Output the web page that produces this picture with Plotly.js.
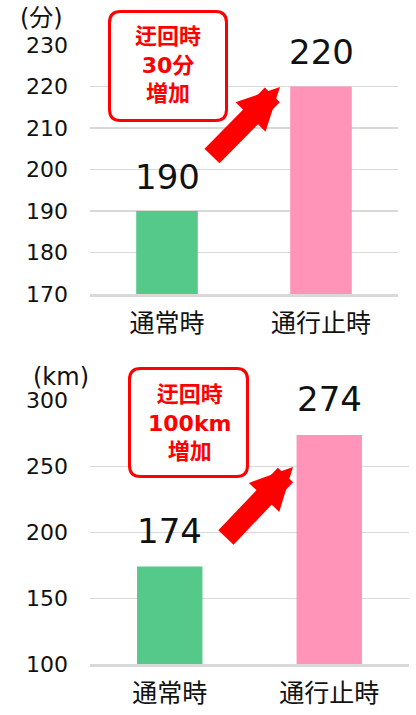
<!DOCTYPE html>
<html>
<head>
<meta charset="utf-8">
<script src="https://cdn.plot.ly/plotly-3.0.1.min.js"></script>
<style>html,body{margin:0;padding:0;background:#fff;}#chart{width:416px;height:715px;}</style>
</head>
<body>
<div id="chart"></div>
<script>
const categories = ['通常時', '通行止時'];
const timeValues = [190, 220];
const distValues = [174, 274];
const timeTicks = [170, 180, 190, 200, 210, 220, 230];
const distTicks = [100, 150, 200, 250, 300];
const barColors = ['#55c98a', '#ff94b8'];
const timeUnit = '(分)';
const distUnit = '(km)';
const timeNote = '迂回時<br>30分<br>増加';
const distNote = '迂回時<br>100km<br>増加';

const W = 416, H = 715;
const px = x => x / W;
const py = y => 1 - y / H;
const FONT = 'DejaVu Sans, Noto Sans CJK JP, sans-serif';

function roundRect(l, t, r, b, rad) {
  const L = px(l), R = px(r), T = py(t), B = py(b);
  const rx = rad / W, ry = rad / H;
  return `M${L + rx},${T} L${R - rx},${T} Q${R},${T} ${R},${T - ry} L${R},${B + ry} Q${R},${B} ${R - rx},${B} L${L + rx},${B} Q${L},${B} ${L},${B + ry} L${L},${T - ry} Q${L},${T} ${L + rx},${T} Z`;
}

const traces = [
  {type: 'bar', x: categories, y: timeValues, width: 0.4, marker: {color: barColors}, xaxis: 'x', yaxis: 'y', hoverinfo: 'none'},
  {type: 'bar', x: categories, y: distValues, width: 0.41, marker: {color: barColors}, xaxis: 'x2', yaxis: 'y2', hoverinfo: 'none'}
];

const gridCol = '#d9d9d9';
const yCommon = {showgrid: true, gridcolor: gridCol, gridwidth: 1.3, zeroline: false, showline: false, ticks: '', ticklabelstandoff: 21, tickfont: {family: FONT, size: 22, color: '#111'}, fixedrange: true};
const xCommon = {showgrid: false, zeroline: false, showline: true, linecolor: gridCol, linewidth: 3, ticks: '', ticklabelstandoff: 5, tickfont: {family: FONT, size: 25, color: '#111'}, fixedrange: true};

const annotations = [];
// value labels
categories.forEach((c, i) => {
  annotations.push({xref: 'x', yref: 'y', x: c, y: timeValues[i], text: String(timeValues[i]), showarrow: false, yanchor: 'middle', yshift: 34, font: {family: FONT, size: 34, color: '#111'}});
  annotations.push({xref: 'x2', yref: 'y2', x: c, y: distValues[i], text: String(distValues[i]), showarrow: false, yanchor: 'middle', yshift: 36, font: {family: FONT, size: 34, color: '#111'}});
});
// units
annotations.push({xref: 'paper', yref: 'paper', x: px(41), y: py(18), text: timeUnit, showarrow: false, xanchor: 'center', yanchor: 'middle', font: {family: FONT, size: 24, color: '#111'}});
annotations.push({xref: 'paper', yref: 'paper', x: px(61), y: py(377), text: distUnit, showarrow: false, xanchor: 'center', yanchor: 'middle', font: {family: FONT, size: 24, color: '#111'}});
// notes
annotations.push({xref: 'paper', yref: 'paper', x: px(168), y: py(65), text: timeNote, showarrow: false, xanchor: 'center', yanchor: 'middle', font: {family: FONT, size: 22, color: '#ff0000', weight: 'bold'}});
annotations.push({xref: 'paper', yref: 'paper', x: px(189), y: py(423), text: distNote, showarrow: false, xanchor: 'center', yanchor: 'middle', font: {family: FONT, size: 22, color: '#ff0000', weight: 'bold'}});
// arrows
annotations.push({xref: 'paper', yref: 'paper', x: px(280), y: py(87), ax: -69.5, ay: 70.5, text: '', showarrow: true, arrowhead: 2, arrowsize: 0.4, arrowwidth: 21, arrowcolor: '#ff0000', standoff: 0});
annotations.push({xref: 'paper', yref: 'paper', x: px(293), y: py(467), ax: -68.5, ay: 72, text: '', showarrow: true, arrowhead: 2, arrowsize: 0.4, arrowwidth: 21, arrowcolor: '#ff0000', standoff: 0});

const shapes = [
  {type: 'path', xref: 'paper', yref: 'paper', path: roundRect(109.5, 11.5, 226.5, 120.5, 11), fillcolor: '#ffffff', line: {color: '#ff0000', width: 3}, layer: 'above'},
  {type: 'path', xref: 'paper', yref: 'paper', path: roundRect(129.5, 368.5, 247.5, 476.5, 11), fillcolor: '#ffffff', line: {color: '#ff0000', width: 3}, layer: 'above'}
];

const layout = {
  width: W, height: H,
  margin: {l: 0, r: 0, t: 0, b: 0},
  paper_bgcolor: '#ffffff', plot_bgcolor: '#ffffff',
  showlegend: false,
  font: {family: FONT, color: '#111'},
  xaxis: Object.assign({}, xCommon, {domain: [px(90), px(398)], anchor: 'y'}),
  yaxis: Object.assign({}, yCommon, {domain: [py(294), py(45)], range: [170, 230], tickvals: timeTicks, anchor: 'x'}),
  xaxis2: Object.assign({}, xCommon, {domain: [px(90), px(409)], anchor: 'y2'}),
  yaxis2: Object.assign({}, yCommon, {domain: [py(664), py(400.7)], range: [100, 300], tickvals: distTicks, anchor: 'x2'}),
  annotations: annotations,
  shapes: shapes
};

Plotly.newPlot('chart', traces, layout, {displayModeBar: false, staticPlot: true});
</script>
</body>
</html>
